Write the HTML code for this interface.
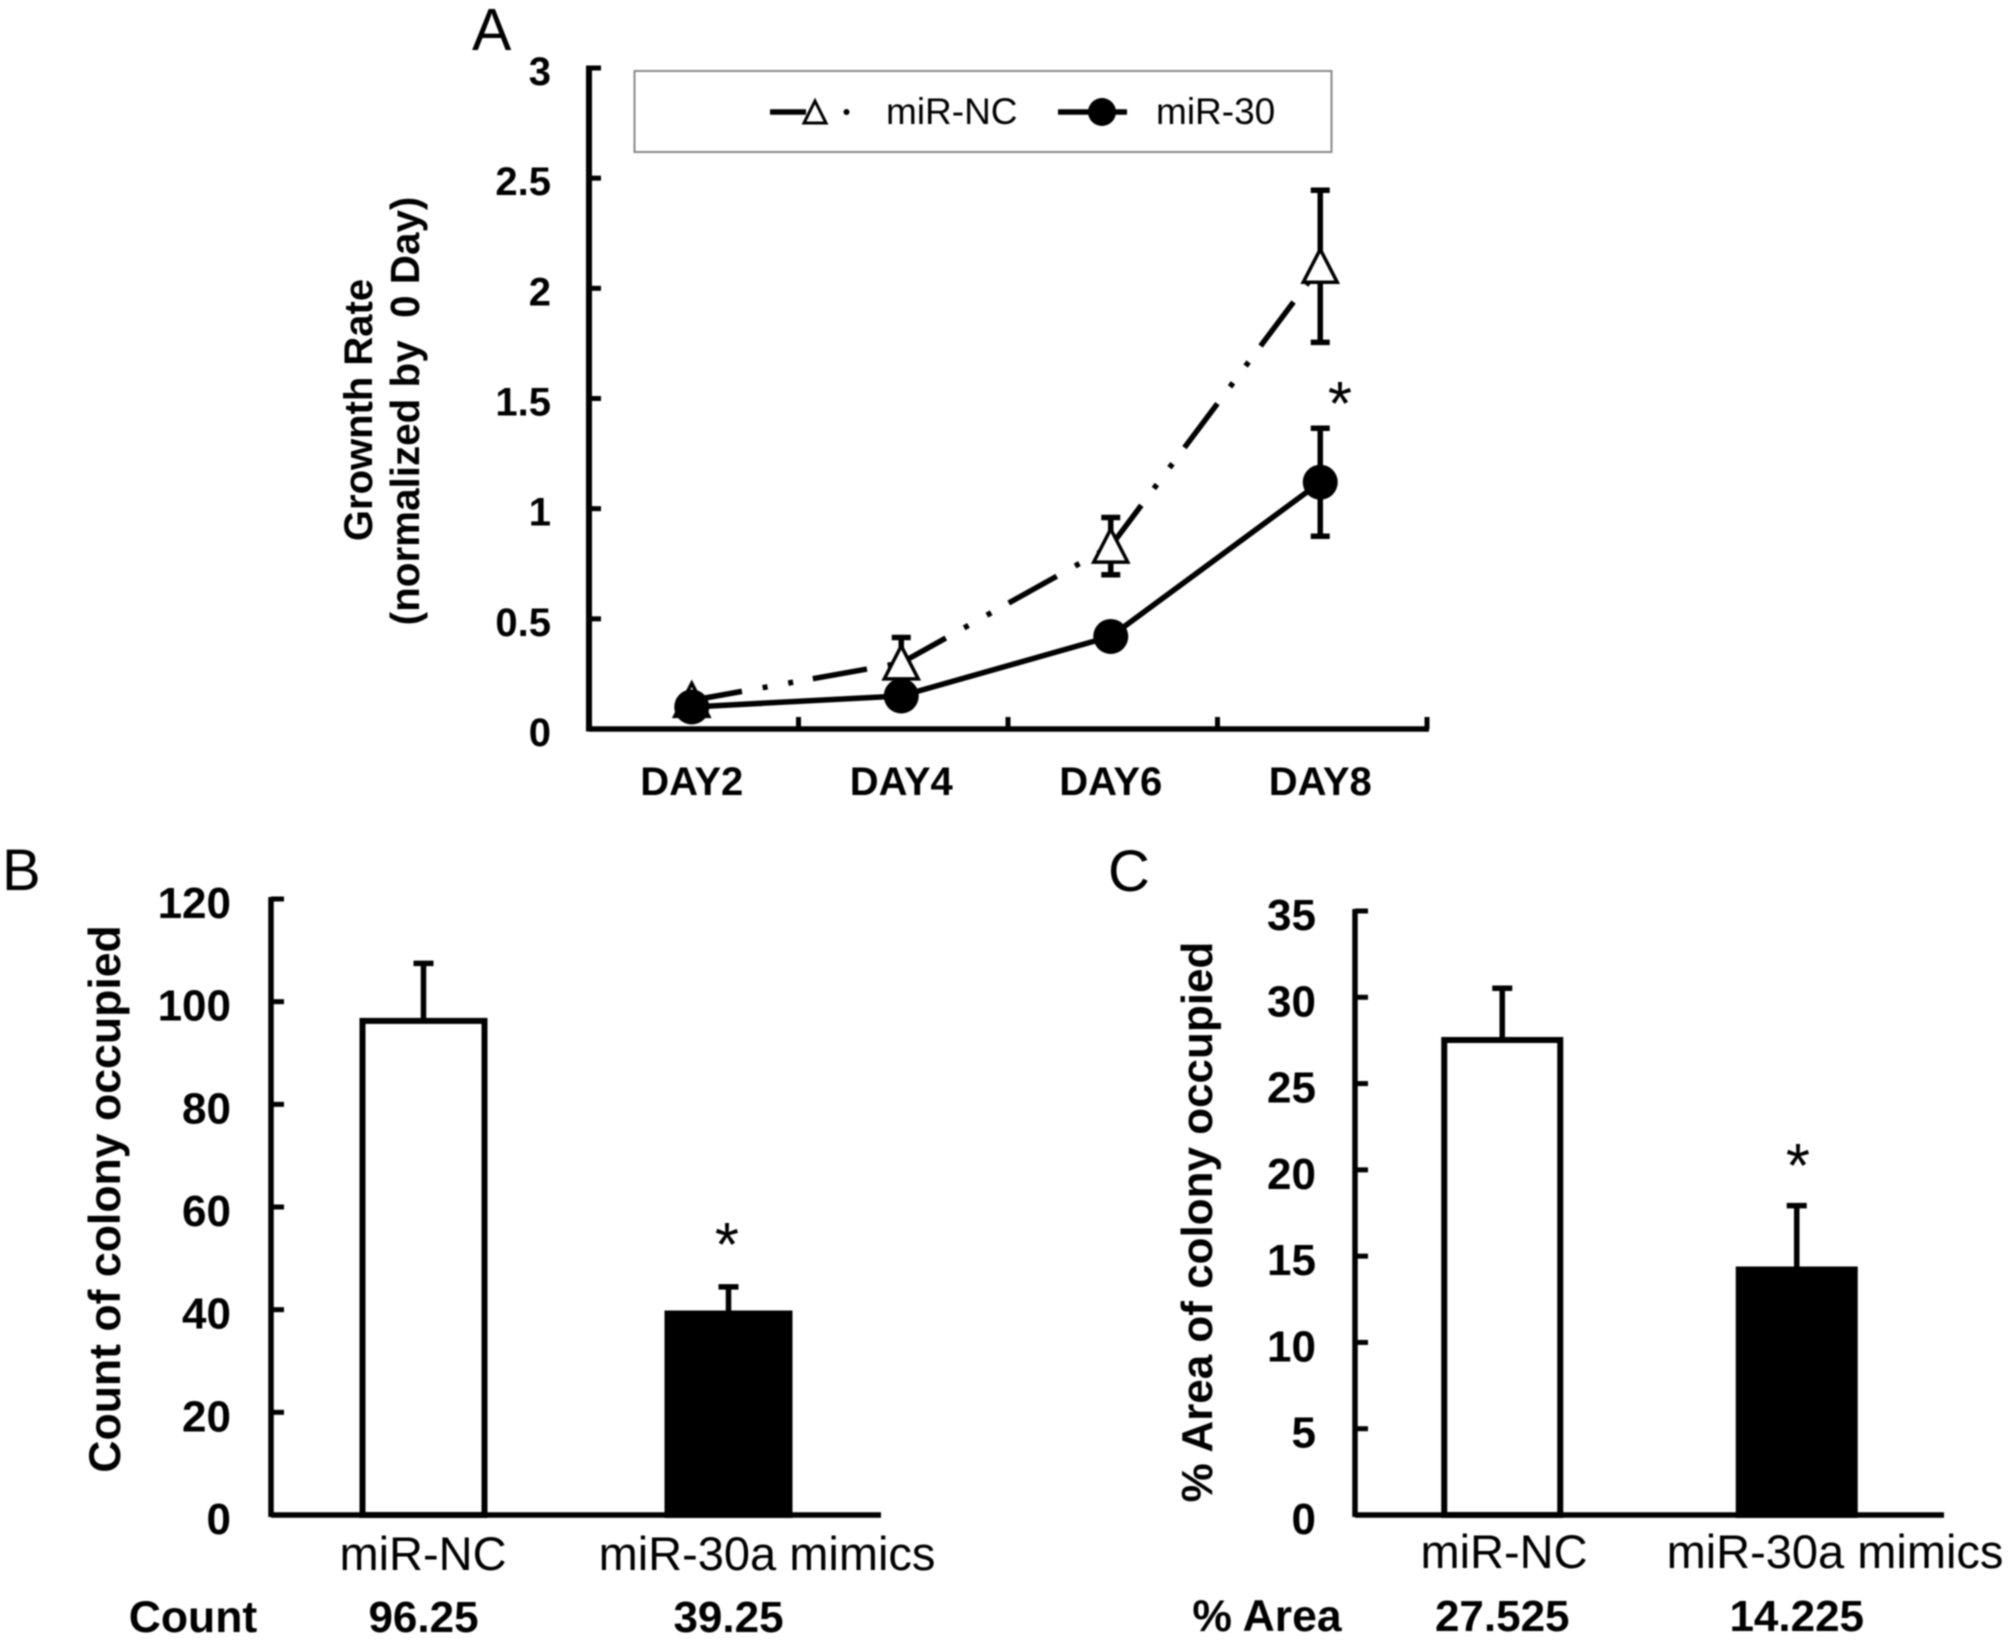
<!DOCTYPE html>
<html lang="en">
<head>
<meta charset="utf-8">
<title>miR-30 growth and colony charts</title>
<style>
html,body{margin:0;padding:0;background:#fff;}
#figure{display:block;width:2008px;height:1641px;filter:blur(0.9px);}
text{font-family:"Liberation Sans",Arial,sans-serif;fill:#000;}
.b{font-weight:700;}
</style>
</head>
<body>
<svg id="figure" xmlns="http://www.w3.org/2000/svg" width="2008" height="1641" viewBox="0 0 2008 1641">
  <rect x="0" y="0" width="2008" height="1641" fill="#fff"/>

  <text x="472" y="50" font-size="59">A</text>
  <text x="2" y="890" font-size="58">B</text>
  <text x="1108" y="891" font-size="58">C</text>

  <text class="b" transform="translate(372,410) rotate(-90)" text-anchor="middle" font-size="40">Grownth Rate</text>
  <text class="b" transform="translate(419,411) rotate(-90)" text-anchor="middle" font-size="40.4" xml:space="preserve">(normalized by  0 Day)</text>
  <text class="b" transform="translate(120,1199) rotate(-90)" text-anchor="middle" font-size="44.6">Count of colony occupied</text>
  <text class="b" transform="translate(1212,1222) rotate(-90)" text-anchor="middle" font-size="44">% Area of colony occupied</text>

  <g id="panel-a"></g>
  <g id="panel-b"></g>
  <g id="panel-c"></g>

  <g>
    <rect x="634.5" y="71" width="697" height="81" fill="#fff" stroke="#8a8a8a" stroke-width="2"/>
    <line x1="770" y1="112" x2="806" y2="112" stroke="#000" stroke-width="5.5"/>
    <polygon points="815,101 826,123 804,123" fill="#fff" stroke="#000" stroke-width="3"/>
    <circle cx="846.5" cy="112" r="3" fill="#000"/>
    <text x="886" y="124" font-size="37">miR-NC</text>
    <line x1="1058" y1="112" x2="1127" y2="112" stroke="#000" stroke-width="5.5"/>
    <circle cx="1102" cy="112" r="14" fill="#000"/>
    <text x="1156" y="124" font-size="37">miR-30</text>
  </g>

  <text x="1340" y="425" text-anchor="middle" font-size="62">*</text>
  <text x="727" y="1266" text-anchor="middle" font-size="62">*</text>
  <text x="1798" y="1187" text-anchor="middle" font-size="62">*</text>

  <text class="b" x="193" y="1632" text-anchor="middle" font-size="44.5">Count</text>
  <text class="b" x="1267" y="1631" text-anchor="middle" font-size="44.5">% Area</text>
</svg>

<script>
// Panel A data
const dayLabels = ['DAY2', 'DAY4', 'DAY6', 'DAY8'];
const growthTicks = [0, 0.5, 1, 1.5, 2, 2.5, 3];
const growthNC = [0.13, 0.30, 0.83, 2.10];
const growthNCErr = [0, 0.115, 0.13, 0.345];
const growth30 = [0.10, 0.15, 0.42, 1.12];
const growth30Err = [0, 0, 0, 0.245];

// Panel B data
const barCategories = ['miR-NC', 'miR-30a mimics'];
const countTicks = [0, 20, 40, 60, 80, 100, 120];
const countValues = [96.25, 39.25];
const countErrors = [11.2, 5.2];
const countPrinted = ['96.25', '39.25'];

// Panel C data
const areaTicks = [0, 5, 10, 15, 20, 25, 30, 35];
const areaValues = [27.525, 14.225];
const areaErrors = [3.0, 3.7];
const areaPrinted = ['27.525', '14.225'];

const NS = 'http://www.w3.org/2000/svg';
function add(parent, tag, attrs, content) {
  const el = document.createElementNS(NS, tag);
  for (const k in attrs) el.setAttribute(k, attrs[k]);
  if (content !== undefined) el.textContent = content;
  parent.appendChild(el);
  return el;
}

function drawErrorBar(parent, x, yHigh, yLow, capWidth, width) {
  const stem = add(parent, 'line', {x1: x, x2: x, y1: yHigh, y2: yLow, stroke: '#000', 'stroke-width': width});
  
  
  const capTop = add(parent, 'line', {x1: x - capWidth / 2, x2: x + capWidth / 2, y1: yHigh, y2: yHigh, stroke: '#000', 'stroke-width': width});
  
  
  const capLow = add(parent, 'line', {x1: x - capWidth / 2, x2: x + capWidth / 2, y1: yLow, y2: yLow, stroke: '#000', 'stroke-width': width});
  
  
}

// ---------- Panel A ----------
(function () {
  const g = document.getElementById('panel-a');
  const axisLeft = 589, axisRight = 1427, axisBase = 729, axisTop = 68;
  const maxV = growthTicks[growthTicks.length - 1];
  const band = (axisRight - axisLeft) / dayLabels.length;
  const yA = v => axisBase - (v / maxV) * (axisBase - axisTop);
  const xA = i => axisLeft - 2 + (i + 0.5) * band;

  const yAxis = add(g, 'line', {x1: axisLeft, x2: axisLeft, y1: axisTop - 2.5, y2: axisBase + 2.5, stroke: '#000', 'stroke-width': 6});
  
  
  const xAxis = add(g, 'line', {x1: axisLeft, x2: axisRight + 2, y1: axisBase, y2: axisBase, stroke: '#000', 'stroke-width': 5.5});
  
  

  growthTicks.forEach(t => {
    const tick = add(g, 'line', {x1: axisLeft, x2: axisLeft + 12, y1: yA(t), y2: yA(t), stroke: '#000', 'stroke-width': 5});
    
    
    const label = add(g, 'text', {x: 551, y: yA(t) + 17, 'text-anchor': 'end', 'font-size': 40, 'font-weight': 700}, String(t));
    
    
  });

  dayLabels.forEach((d, i) => {
    const tx = axisLeft + (i + 1) * band;
    const tick = add(g, 'line', {x1: tx, x2: tx, y1: axisBase, y2: axisBase - 12, stroke: '#000', 'stroke-width': 5});
    
    
    const label = add(g, 'text', {x: xA(i), y: 795, 'text-anchor': 'middle', 'font-size': 40, 'font-weight': 700}, d);
    
    
  });

  // The dash pattern restarts on each segment, as in the source chart.
  for (let i = 0; i < growthNC.length - 1; i++) {
    const seg = add(g, 'line', {x1: xA(i), y1: yA(growthNC[i]), x2: xA(i + 1), y2: yA(growthNC[i + 1]), stroke: '#000', 'stroke-width': 5.5, 'stroke-dasharray': '55 21 5 21 5 20', 'stroke-dashoffset': 4});
    
    
  }

  growthNC.forEach((v, i) => {
    if (growthNCErr[i] > 0) {
      drawErrorBar(g, xA(i), yA(v + growthNCErr[i]), yA(v - growthNCErr[i]), 19, 5.5);
    }
    const cx = xA(i), cy = yA(v);
    const tri = add(g, 'polygon', {points: cx + ',' + (cy - 17) + ' ' + (cx + 17) + ',' + (cy + 16) + ' ' + (cx - 17) + ',' + (cy + 16), fill: '#fff', stroke: '#000', 'stroke-width': 3.5});
    
    
  });

  const m30Pts = growth30.map((v, i) => xA(i) + ',' + yA(v)).join(' ');
  const m30Line = add(g, 'polyline', {points: m30Pts, fill: 'none', stroke: '#000', 'stroke-width': 5.5});
  
  

  growth30.forEach((v, i) => {
    if (growth30Err[i] > 0) {
      drawErrorBar(g, xA(i), yA(v + growth30Err[i]), yA(v - growth30Err[i]), 19, 5.5);
    }
    const dot = add(g, 'circle', {cx: xA(i), cy: yA(v), r: 17.5, fill: '#000'});
    
    
  });
})();

// ---------- Panels B and C ----------
function drawBars(g, opts, ticks, values, errors, printed) {
  const maxV = ticks[ticks.length - 1];
  const band = (opts.right - opts.left) / barCategories.length;
  const yS = v => opts.base - (v / maxV) * (opts.base - opts.top);
  const xS = i => opts.left + (i + 0.5) * band;

  const yAxis = add(g, 'line', {x1: opts.left, x2: opts.left, y1: opts.top - 2, y2: opts.base + 2, stroke: '#000', 'stroke-width': 5.5});
  
  

  ticks.forEach(t => {
    const tick = add(g, 'line', {x1: opts.left, x2: opts.left + 13, y1: yS(t), y2: yS(t), stroke: '#000', 'stroke-width': 5});
    
    
    const label = add(g, 'text', {x: opts.labelRight, y: yS(t) + 19, 'text-anchor': 'end', 'font-size': 44, 'font-weight': 700}, String(t));
    
    
  });

  values.forEach((v, i) => {
    const cx = xS(i), top = yS(v);
    const stem = add(g, 'line', {x1: cx, x2: cx, y1: yS(v + errors[i]), y2: top, stroke: '#000', 'stroke-width': 5.5});
    
    
    const cap = add(g, 'line', {x1: cx - 10, x2: cx + 10, y1: yS(v + errors[i]), y2: yS(v + errors[i]), stroke: '#000', 'stroke-width': 5.5});
    
    
    const bar = add(g, 'rect', {x: cx - opts.barWidth / 2, y: top, width: opts.barWidth, height: opts.base - top, fill: i === 0 ? '#fff' : '#000', stroke: '#000', 'stroke-width': 6});
    
    
    const cat = add(g, 'text', {x: opts.catX[i], y: opts.catY, 'text-anchor': 'middle', 'font-size': 47}, barCategories[i]);
    
    
    const val = add(g, 'text', {x: cx, y: opts.valueY, 'text-anchor': 'middle', 'font-size': 44, 'font-weight': 700}, printed[i]);
    
    
  });

  const xAxis = add(g, 'line', {x1: opts.left, x2: opts.right, y1: opts.base, y2: opts.base, stroke: '#000', 'stroke-width': 5.5});
  
  
}

drawBars(document.getElementById('panel-b'),
  {left: 271, right: 881, base: 1515, top: 899, labelRight: 231, barWidth: 122, catX: [423, 767], catY: 1570, valueY: 1632},
  countTicks, countValues, countErrors, countPrinted);

drawBars(document.getElementById('panel-c'),
  {left: 1355, right: 1944, base: 1515, top: 911, labelRight: 1316, barWidth: 116, catX: [1504, 1835], catY: 1568, valueY: 1631},
  areaTicks, areaValues, areaErrors, areaPrinted);
</script>
</body>
</html>
